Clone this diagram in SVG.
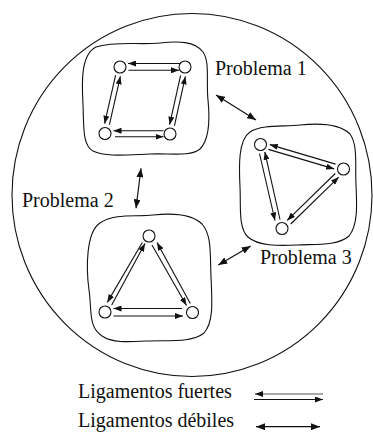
<svg xmlns="http://www.w3.org/2000/svg" width="373" height="437" viewBox="0 0 373 437">
<style>
.blob{fill:none;stroke:#111;stroke-width:1.1}
.node{fill:#fff;stroke:#111;stroke-width:1.1}
.s{stroke:#111;stroke-width:1.1;fill:none;marker-end:url(#ah)}
.w{stroke:#111;stroke-width:1.2;fill:none;marker-start:url(#aw);marker-end:url(#aw)}
text{font-family:'Liberation Serif','Times New Roman',Times,serif;font-size:20px;fill:#111}
</style>
<defs>
<marker id="ah" viewBox="0 0 8 6" refX="8" refY="3" markerWidth="8" markerHeight="6" markerUnits="userSpaceOnUse" orient="auto-start-reverse"><path d="M0,0 L8,3 L0,6 z" fill="#111"/></marker>
<marker id="aw" viewBox="0 0 9 7" refX="9" refY="3.5" markerWidth="9" markerHeight="7" markerUnits="userSpaceOnUse" orient="auto-start-reverse"><path d="M0,0 L9,3.5 L0,7 z" fill="#111"/></marker>
</defs>
<ellipse cx="192" cy="195" rx="180" ry="181.5" class="blob"/>

<g id="problema1">
<path class="blob" d="M96,47 C115,41 140,45 160,43 C178,41 195,41 203,52 C210,62 206,80 208,100 C210,120 209,140 200,149 C190,157 170,153 150,154 C125,155 105,157 93,151 C82,145 84,125 83,105 C82,85 80,55 96,47 Z"/>
<circle class="node" cx="120" cy="67" r="6"/>
<circle class="node" cx="185" cy="67" r="6"/>
<circle class="node" cx="105" cy="133.5" r="6"/>
<circle class="node" cx="170" cy="134" r="6"/>
</g>

<g id="problema3">
<path class="blob" d="M250,132 C262,124 285,127 300,125 C320,123 340,124 350,134 C358,145 355,165 356,185 C357,205 358,225 349,236 C338,246 315,244 297,245 C278,246 258,246 248,237 C238,228 241,205 240,187 C239,167 238,140 250,132 Z"/>
<circle class="node" cx="260.5" cy="144.5" r="6"/>
<circle class="node" cx="343.5" cy="169" r="6"/>
<circle class="node" cx="282" cy="228.5" r="6"/>
</g>

<g id="problema2">
<path class="blob" d="M100,223 C115,213 135,217 153,215 C172,213 192,214 202,224 C212,235 210,255 211,277 C212,300 214,322 204,333 C192,343 168,340 147,341 C128,342 112,343 102,336 C88,327 92,310 89,290 C86,268 86,232 100,223 Z"/>
<circle class="node" cx="149" cy="236" r="6"/>
<circle class="node" cx="105" cy="312" r="6"/>
<circle class="node" cx="192.5" cy="312.5" r="6"/>
</g>

<g id="connectors">
<line class="s" x1="180.5" y1="63.5" x2="128" y2="63.5"/>
<line class="s" x1="128.5" y1="70.3" x2="179" y2="70.3"/>
<line class="s" x1="115.6" y1="75.2" x2="104.6" y2="123.7"/>
<line class="s" x1="109.4" y1="124.7" x2="120.4" y2="76.3"/>
<line class="s" x1="174.4" y1="125.8" x2="185.4" y2="76.4"/>
<line class="s" x1="180.6" y1="75.3" x2="169.6" y2="124.7"/>
<line class="s" x1="163.5" y1="130.7" x2="113.5" y2="130.7"/>
<line class="s" x1="115" y1="136.8" x2="163.5" y2="136.8"/>

<line class="s" x1="335.6" y1="164.1" x2="269.8" y2="144.6"/>
<line class="s" x1="268.4" y1="149.4" x2="334.2" y2="168.9"/>
<line class="s" x1="259.5" y1="153.5" x2="275" y2="220.5"/>
<line class="s" x1="280" y1="219.5" x2="264.8" y2="151.8"/>
<line class="s" x1="290.7" y1="224" x2="338.8" y2="177.1"/>
<line class="s" x1="335.3" y1="173.5" x2="287.2" y2="220.4"/>

<line class="s" x1="142.3" y1="242.5" x2="107.3" y2="302.4"/>
<line class="s" x1="111.7" y1="305" x2="145" y2="243.5"/>
<line class="s" x1="190.3" y1="303.5" x2="157" y2="242.6"/>
<line class="s" x1="152" y1="245" x2="186.5" y2="305.5"/>
<line class="s" x1="182" y1="308.5" x2="113.5" y2="308.5"/>
<line class="s" x1="113.5" y1="316" x2="183" y2="316"/>

<line class="w" x1="216" y1="95" x2="256" y2="120"/>
<line class="w" x1="141" y1="168.3" x2="136" y2="208.3"/>
<line class="w" x1="218.3" y1="265" x2="250.7" y2="246"/>

<line class="s" x1="323" y1="394" x2="255" y2="394" style="stroke:#555"/>
<line class="s" x1="254" y1="399.5" x2="323" y2="399.5"/>
<line class="w" x1="256" y1="426.7" x2="320" y2="426.7"/>
</g>

<text x="215" y="75">Problema 1</text>
<text x="22" y="206.5">Problema 2</text>
<text x="260" y="264">Problema 3</text>
<text x="78" y="398.3">Ligamentos fuertes</text>
<text x="78" y="426.7">Ligamentos débiles</text>
</svg>
